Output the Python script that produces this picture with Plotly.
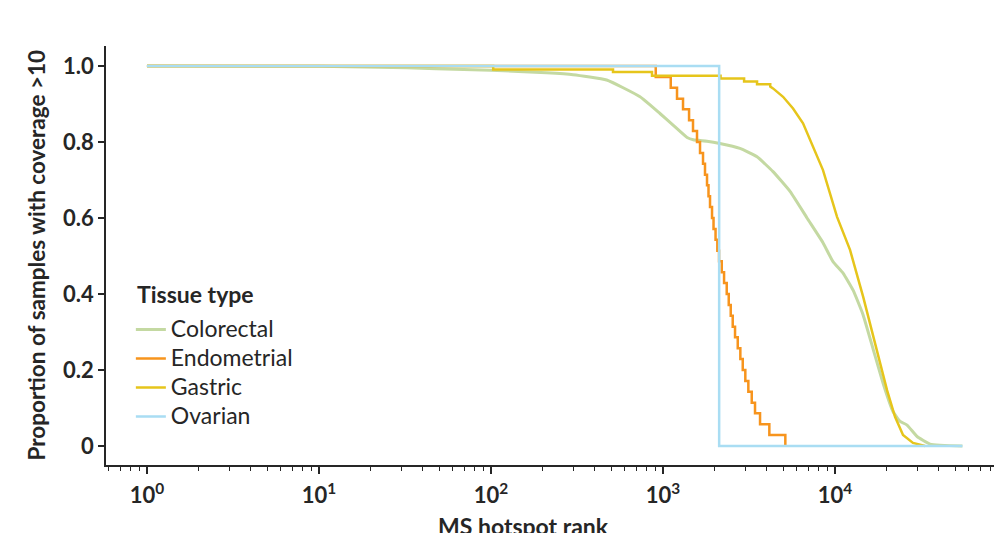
import plotly.graph_objects as go

# ---------------- data ----------------
colorectal_rank = [1, 10, 22, 48, 100, 210, 300, 470, 735, 960, 1140, 1380, 1500,
                   1800, 2140, 2800, 3520, 4360, 5475, 6874, 8510, 9730, 11130,
                   12730, 14560, 16650, 19020, 21750, 23880, 26220, 29980, 35660, 55000]
colorectal_prop = [1.0, 0.999, 0.997, 0.993, 0.989, 0.982, 0.977, 0.963, 0.919, 0.875,
                   0.845, 0.812, 0.806, 0.802, 0.796, 0.783, 0.761, 0.722, 0.67, 0.60,
                   0.535, 0.485, 0.455, 0.41, 0.345, 0.255, 0.165, 0.09, 0.065, 0.055,
                   0.025, 0.005, 0.0]

endometrial_rank = [1, 907, 1109, 1206, 1307, 1417, 1494, 1576, 1641, 1708, 1754, 1802,
                    1838, 1876, 1927, 1966, 2020, 2069, 2117, 2195, 2264, 2346, 2410,
                    2475, 2542, 2622, 2719, 2815, 2907, 3009, 3133, 3279, 3426, 3664,
                    4150, 5140]
endometrial_prop = [1.0, 0.971, 0.943, 0.914, 0.886, 0.857, 0.829, 0.8, 0.771, 0.743,
                    0.714, 0.686, 0.657, 0.629, 0.6, 0.571, 0.543, 0.514, 0.486, 0.457,
                    0.429, 0.4, 0.371, 0.343, 0.314, 0.286, 0.257, 0.229, 0.2, 0.171,
                    0.143, 0.114, 0.086, 0.057, 0.029, 0.0]

gastric_rank = [1, 103, 103, 512, 512, 863, 863, 2160, 2160, 2960, 2960, 3520, 3520,
                4200, 4200, 4360, 4986, 5700, 6515, 7447, 8510, 10270, 12220, 14560,
                17540, 20050, 22320, 24840, 28390, 33350]
gastric_prop = [1.0, 1.0, 0.991, 0.991, 0.984, 0.984, 0.974, 0.974, 0.967, 0.967, 0.959,
                0.959, 0.952, 0.952, 0.946, 0.941, 0.919, 0.888, 0.849, 0.788, 0.726,
                0.603, 0.516, 0.393, 0.253, 0.147, 0.077, 0.029, 0.008, 0.0]

ovarian_rank = [1, 2120, 55000]
ovarian_prop = [1.0, 0.0, 0.0]

tissue_types = ["Colorectal", "Endometrial", "Gastric", "Ovarian"]
legend_title = "Tissue type"
x_tickvals = [1, 10, 100, 1000, 10000]
x_ticktext = ["10<sup>0</sup>", "10<sup>1</sup>", "10<sup>2</sup>", "10<sup>3</sup>", "10<sup>4</sup>"]
y_tickvals = [0, 0.2, 0.4, 0.6, 0.8, 1.0]
y_ticktext = ["0", "0.2", "0.4", "0.6", "0.8", "1.0"]
minor_vals = [m * 10 ** k for k in range(-1, 5) for m in range(2, 10)]

# ---------------- styles ----------------
FONT = "Lato, 'Open Sans', sans-serif"
TXT = "#262626"
colors = {"Colorectal": "#c4d9a2", "Endometrial": "#f7941d",
          "Gastric": "#e6c51b", "Ovarian": "#a9ddf3"}


def lbl(name):
    return "<span style='font-size:23px'>" + name + "</span>"


series = {
    "Colorectal": (colorectal_rank, colorectal_prop, dict(width=3, shape="spline", smoothing=0.4)),
    "Endometrial": (endometrial_rank, endometrial_prop, dict(width=2.5, shape="hv")),
    "Gastric": (gastric_rank, gastric_prop, dict(width=2.5)),
    "Ovarian": (ovarian_rank, ovarian_prop, dict(width=2.5, shape="hv")),
}

fig = go.Figure()
for name in tissue_types:
    xs, ys, ln = series[name]
    fig.add_trace(go.Scatter(x=xs, y=ys, mode="lines", name=lbl(name),
                             line=dict(color=colors[name], **ln)))

fig.update_layout(
    width=994, height=533,
    margin=dict(l=106, r=0, t=46, b=68),
    paper_bgcolor="white", plot_bgcolor="white",
    font=dict(family=FONT, size=20, color=TXT),
    showlegend=True,
    legend=dict(
        x=0.028, y=0.370, xanchor="left", yanchor="top",
        bgcolor="rgba(0,0,0,0)", font=dict(size=20, color=TXT),
        itemwidth=30,
    ),
    xaxis=dict(
        type="log", range=[-0.238, 4.924],
        showgrid=False, zeroline=False,
        showline=True, linecolor=TXT, linewidth=1.5,
        ticks="outside", ticklen=7, tickwidth=1.5, tickcolor=TXT,
        tickmode="array", tickvals=x_tickvals, ticktext=x_ticktext,
        ticklabelstandoff=3,
        tickfont=dict(family=FONT, size=22, color=TXT, weight="bold"),
        minor=dict(ticks="outside", ticklen=4, tickwidth=1, tickcolor=TXT,
                   tickmode="array", tickvals=minor_vals, showgrid=False),
    ),
    yaxis=dict(
        range=[-0.05, 1.0526],
        showgrid=False, zeroline=False,
        showline=True, linecolor=TXT, linewidth=1.5,
        ticks="outside", ticklen=6, tickwidth=1.5, tickcolor=TXT,
        tickmode="array", tickvals=y_tickvals, ticktext=y_ticktext,
        tickfont=dict(family=FONT, size=22, color=TXT, weight="bold"),
    ),
    annotations=[
        dict(text="<b>" + legend_title + "</b>", xref="paper", yref="paper",
             x=0.0327, y=0.4075, xanchor="left", yanchor="middle",
             showarrow=False, font=dict(family=FONT, size=23, color=TXT)),
        dict(text="<b>MS hotspot rank</b>", xref="paper", yref="paper",
             x=0.4696, y=-0.146, xanchor="center", yanchor="middle",
             showarrow=False, font=dict(family=FONT, size=23, color=TXT)),
        dict(text="<b>Proportion of samples with coverage >10</b>", xref="paper", yref="paper",
             x=-0.0788, y=0.5, xanchor="center", yanchor="middle", textangle=-90,
             showarrow=False, font=dict(family=FONT, size=22.5, color=TXT)),
    ],
)

fig.write_html("out.html", config={"displayModeBar": False},
               post_script="document.body.style.margin='0';")
